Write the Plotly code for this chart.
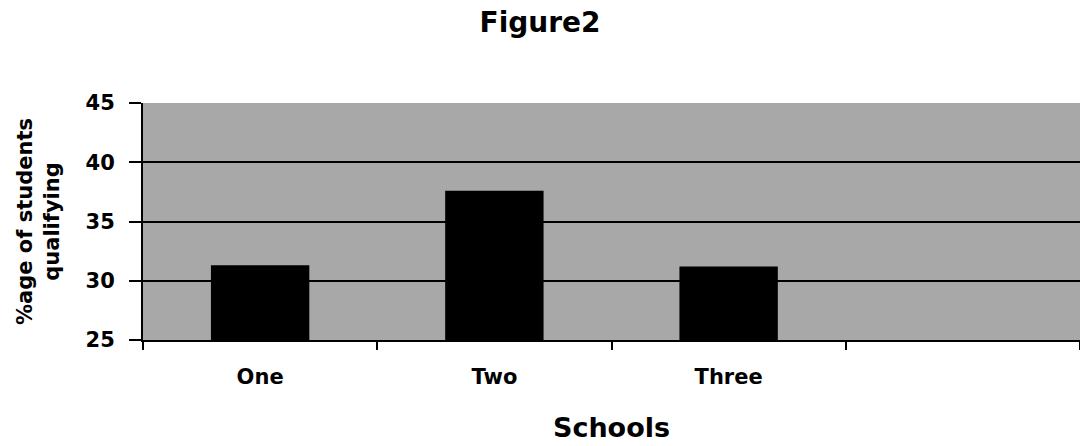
import plotly.graph_objects as go

categories = ["One", "Two", "Three", ""]
values = [31.3, 37.6, 31.2, None]
y_ticks = [25, 30, 35, 40, 45]

FONT = "DejaVu Sans, Liberation Sans, Arial"

fig = go.Figure()
fig.add_trace(go.Bar(
    x=categories, y=values,
    marker=dict(color="black", line=dict(width=0)),
    width=0.42,
))

fig.update_layout(
    width=1080, height=446,
    margin=dict(l=143, r=0, t=103, b=106),
    paper_bgcolor="white",
    plot_bgcolor="#a8a8a8",
    showlegend=False,
    title=dict(text="Figure2", x=0.5, xanchor="center", y=1 - 22 / 446, yanchor="middle",
               font=dict(family=FONT, size=28, color="black", weight="bold")),
    font=dict(family=FONT, color="black"),
)
fig.update_xaxes(
    type="category",
    range=[-0.5, 3.5],
    showline=True, linecolor="black", linewidth=2,
    ticks="outside", tickson="boundaries", ticklen=8, tickwidth=2, tickcolor="black",
    showgrid=False,
    tickfont=dict(family=FONT, size=21, color="black", weight="bold"),
    ticklabelstandoff=17,
    title=dict(text="Schools", standoff=30,
               font=dict(family=FONT, size=27, color="black", weight="bold")),
)
fig.update_yaxes(
    range=[25, 45],
    tickvals=y_ticks,
    showline=True, linecolor="black", linewidth=2,
    ticks="outside", ticklen=12, tickwidth=2, tickcolor="black",
    showgrid=True, gridcolor="black", gridwidth=2,
    zeroline=False,
    tickfont=dict(family=FONT, size=21, color="black", weight="bold"),
    ticklabelstandoff=10,
    title=dict(text="%age of students<br>qualifying", standoff=20,
               font=dict(family=FONT, size=21, color="black", weight="bold")),
)

fig.write_html("out.html", config={"displayModeBar": False},
               post_script="document.body.style.margin='0';")
